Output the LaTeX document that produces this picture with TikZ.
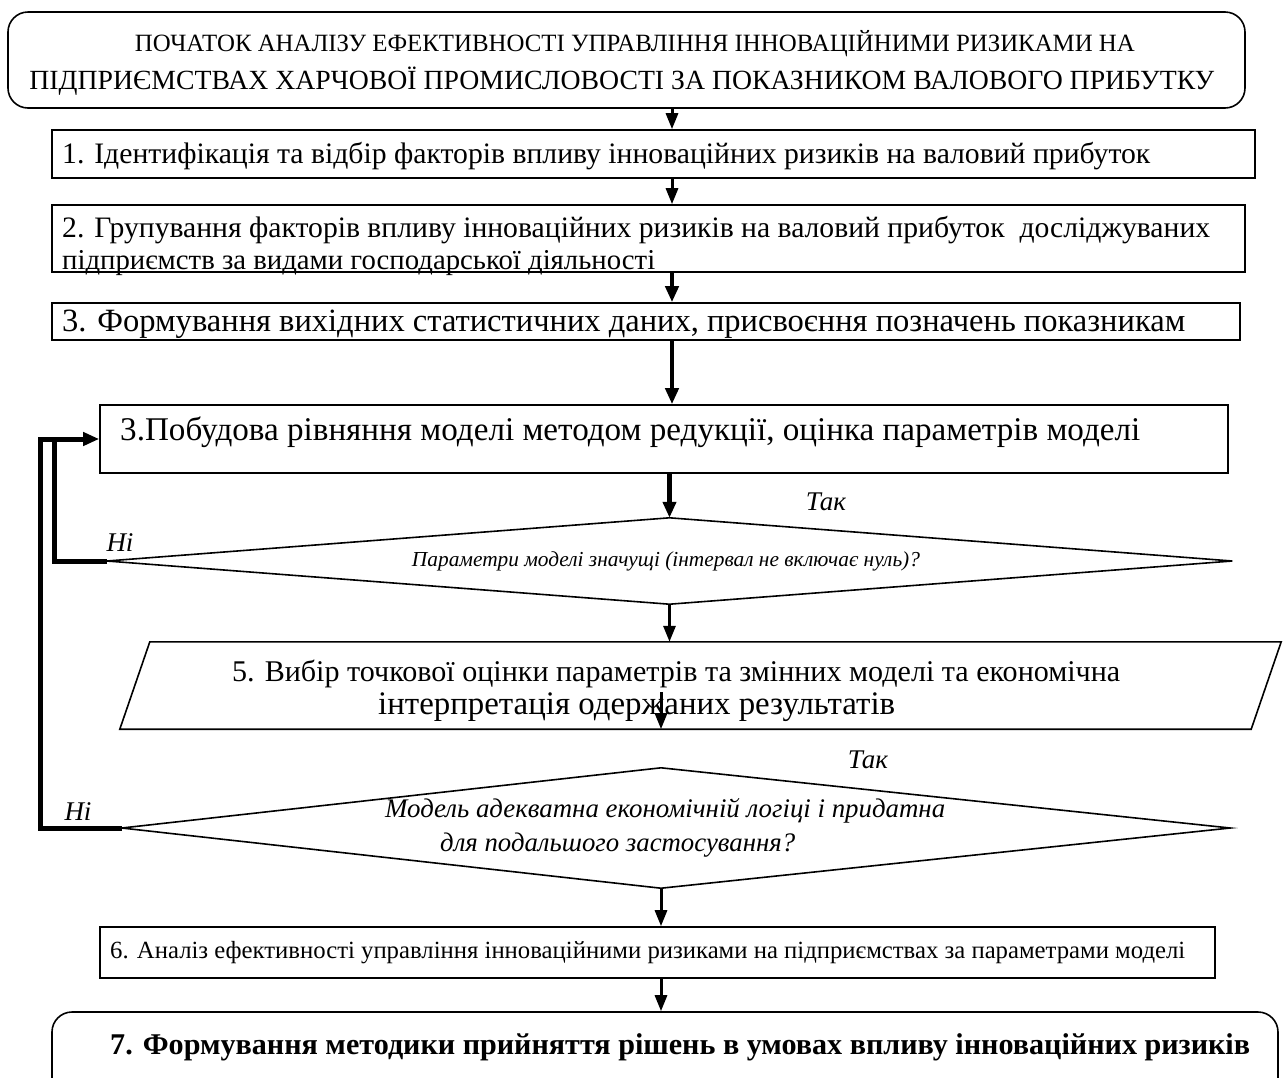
\documentclass[tikz,border=0pt]{standalone}
\usepackage{fontspec}
\setmainfont{Liberation Serif}
\usepackage{graphicx}
\usetikzlibrary{arrows.meta}
\newcommand{\fitline}[2]{\resizebox{#1}{!}{#2}}
\begin{document}
\begin{tikzpicture}[x=1pt,y=-1pt,
  box/.style={draw, line width=1.6pt, inner sep=0pt},
  ghost/.style={inner sep=0pt},
  txt/.style={inner sep=0pt, font=\fontsize{20}{24}\selectfont},
  arr/.style={line width=3pt, -{Triangle[length=16pt,width=12pt]}},
  tarr/.style={line width=4.5pt, -{Triangle[length=16pt,width=13pt]}},
  fb/.style={line width=5pt, line join=miter},
  lab/.style={font=\fontsize{27}{30}\selectfont\itshape, inner sep=0pt}
]
\clip (0,0) rectangle (1283,1077);
\fill[white] (0,0) rectangle (1283,1077);
\coordinate (ax) at (672,0);
\coordinate (bx) at (661,0);
\coordinate (fbo) at (40,0);
\coordinate (fbi) at (54,0);

% top rounded box
\node[box, rounded corners=20pt, minimum width=1237pt, minimum height=96pt] (t0) at (626.5,60) {};
\node[txt, anchor=base] (t0a) at (635,51)
  {\fitline{1000pt}{ПОЧАТОК АНАЛІЗУ ЕФЕКТИВНОСТІ УПРАВЛІННЯ ІННОВАЦІЙНИМИ РИЗИКАМИ НА}};
\node[txt, anchor=base] (t0b) at (622,89)
  {\fitline{1185pt}{ПІДПРИЄМСТВАХ ХАРЧОВОЇ ПРОМИСЛОВОСТІ ЗА ПОКАЗНИКОМ ВАЛОВОГО ПРИБУТКУ}};

% box 1
\node[box, minimum width=1203pt, minimum height=48pt] (b1) at (653.5,154) {};
\node[txt, anchor=base west] (t1) at (62,163)
  {\fitline{1088pt}{1. Ідентифікація та відбір факторів впливу інноваційних ризиків на валовий прибуток}};

% box 2
\node[box, minimum width=1193pt, minimum height=67pt] (b2) at (648.5,238.5) {};
\node[txt, anchor=base west] (t2a) at (62,237)
  {\fitline{1148pt}{2. Групування факторів впливу інноваційних ризиків на валовий прибуток\ \ досліджуваних}};
\node[txt, anchor=base west] (t2b) at (62,269)
  {\fitline{593pt}{підприємств за видами господарської діяльності}};

% box 3
\node[box, minimum width=1188pt, minimum height=37pt] (b3) at (646,321.5) {};
\node[txt, anchor=base west] (t3) at (62,331)
  {\fitline{1123pt}{3. Формування вихідних статистичних даних, присвоєння позначень показникам}};

% box 3b
\node[box, minimum width=1128pt, minimum height=68pt] (b3b) at (664,439) {};
\node[txt, anchor=base west] (t3b) at (120,440)
  {\fitline{1020pt}{3.Побудова рівняння моделі методом редукції, оцінка параметрів моделі}};

% decision 1
\node[ghost, minimum width=1125pt, minimum height=86pt] (d1) at (669.5,561) {};
\draw[line width=1.6pt, line join=miter] (d1.north) -- (d1.east) -- (d1.south) -- (d1.west) -- cycle;
\node[txt, anchor=base, font=\fontsize{20}{24}\selectfont\itshape] (td1) at (666,566)
  {\fitline{508pt}{Параметри моделі значущі (інтервал не включає нуль)?}};
\node[lab] (tak1) at (826,502) {Так};
\node[lab] (ni1) at (120,543) {Ні};

% parallelogram 5
\node[ghost, minimum width=1131pt, minimum height=87pt] (b5) at (700.5,685.5) {};
\draw[line width=1.6pt, line join=miter] ([xshift=15pt]b5.north west) -- ([xshift=15pt]b5.north east)
  -- ([xshift=-15pt]b5.south east) -- ([xshift=-15pt]b5.south west) -- cycle;
\node[txt, anchor=base west] (t5a) at (232,681)
  {\fitline{888pt}{5. Вибір точкової оцінки параметрів та змінних моделі та економічна}};
\node[txt, anchor=base west] (t5b) at (378,714)
  {\fitline{517pt}{інтерпретація одержаних результатів}};
\coordinate (a5) at (661,692);

% decision 2
\node[ghost, minimum width=1108pt, minimum height=120pt] (d2) at (676,828) {};
\draw[line width=1.6pt, line join=miter] ([xshift=-15pt]d2.north) -- (d2.east)
  -- ([xshift=-15pt]d2.south) -- (d2.west) -- cycle;
\node[txt, anchor=base west, font=\fontsize{20}{24}\selectfont\itshape] (td2a) at (385,817)
  {\fitline{560pt}{Модель адекватна економічній логіці і придатна}};
\node[txt, anchor=base west, font=\fontsize{20}{24}\selectfont\itshape] (td2b) at (440,851)
  {\fitline{355pt}{для подальшого застосування?}};
\node[lab] (tak2) at (868,760) {Так};
\node[lab] (ni2) at (78,812) {Ні};

% box 6
\node[box, minimum width=1115pt, minimum height=51pt] (b6) at (657.5,952.5) {};
\node[txt, anchor=base west] (t6) at (110,958)
  {\fitline{1075pt}{6. Аналіз ефективності управління інноваційними ризиками на підприємствах за параметрами моделі}};

% box 7
\node[box, rounded corners=20pt, minimum width=1226pt, minimum height=90pt] (b7) at (665,1057) {};
\node[txt, anchor=base west, font=\fontsize{20}{24}\selectfont\bfseries] (t7) at (110,1054)
  {\fitline{1140pt}{7. Формування методики прийняття рішень в умовах впливу інноваційних ризиків}};

% arrows
\draw[arr] (t0.south -| ax) -- (b1.north -| ax);
\draw[arr] (b1.south -| ax) -- (b2.north -| ax);
\draw[tarr] (b2.south -| ax) -- (b3.north -| ax);
\draw[tarr] (b3.south -| ax) -- (b3b.north -| ax);
\draw[tarr] (b3b.south -| d1.north) -- (d1.north);
\draw[arr] (d1.south) -- (d1.south |- b5.north);
\draw[arr] (a5) -- (a5 |- b5.south);
\draw[arr] ([xshift=-15pt]d2.south) -- ([xshift=-15pt]d2.south |- b6.north);
\draw[arr] (b6.south -| bx) -- (b7.north -| bx);

% feedback loops
\draw[fb] (d1.west) -- (d1.west -| fbi) -- (fbi |- b3b.west);
\draw[fb, -{Triangle[length=16pt,width=13pt]}] (d2.west) -- (d2.west -| fbo) -- (fbo |- b3b.west) -- (b3b.west);
\end{tikzpicture}
\end{document}
